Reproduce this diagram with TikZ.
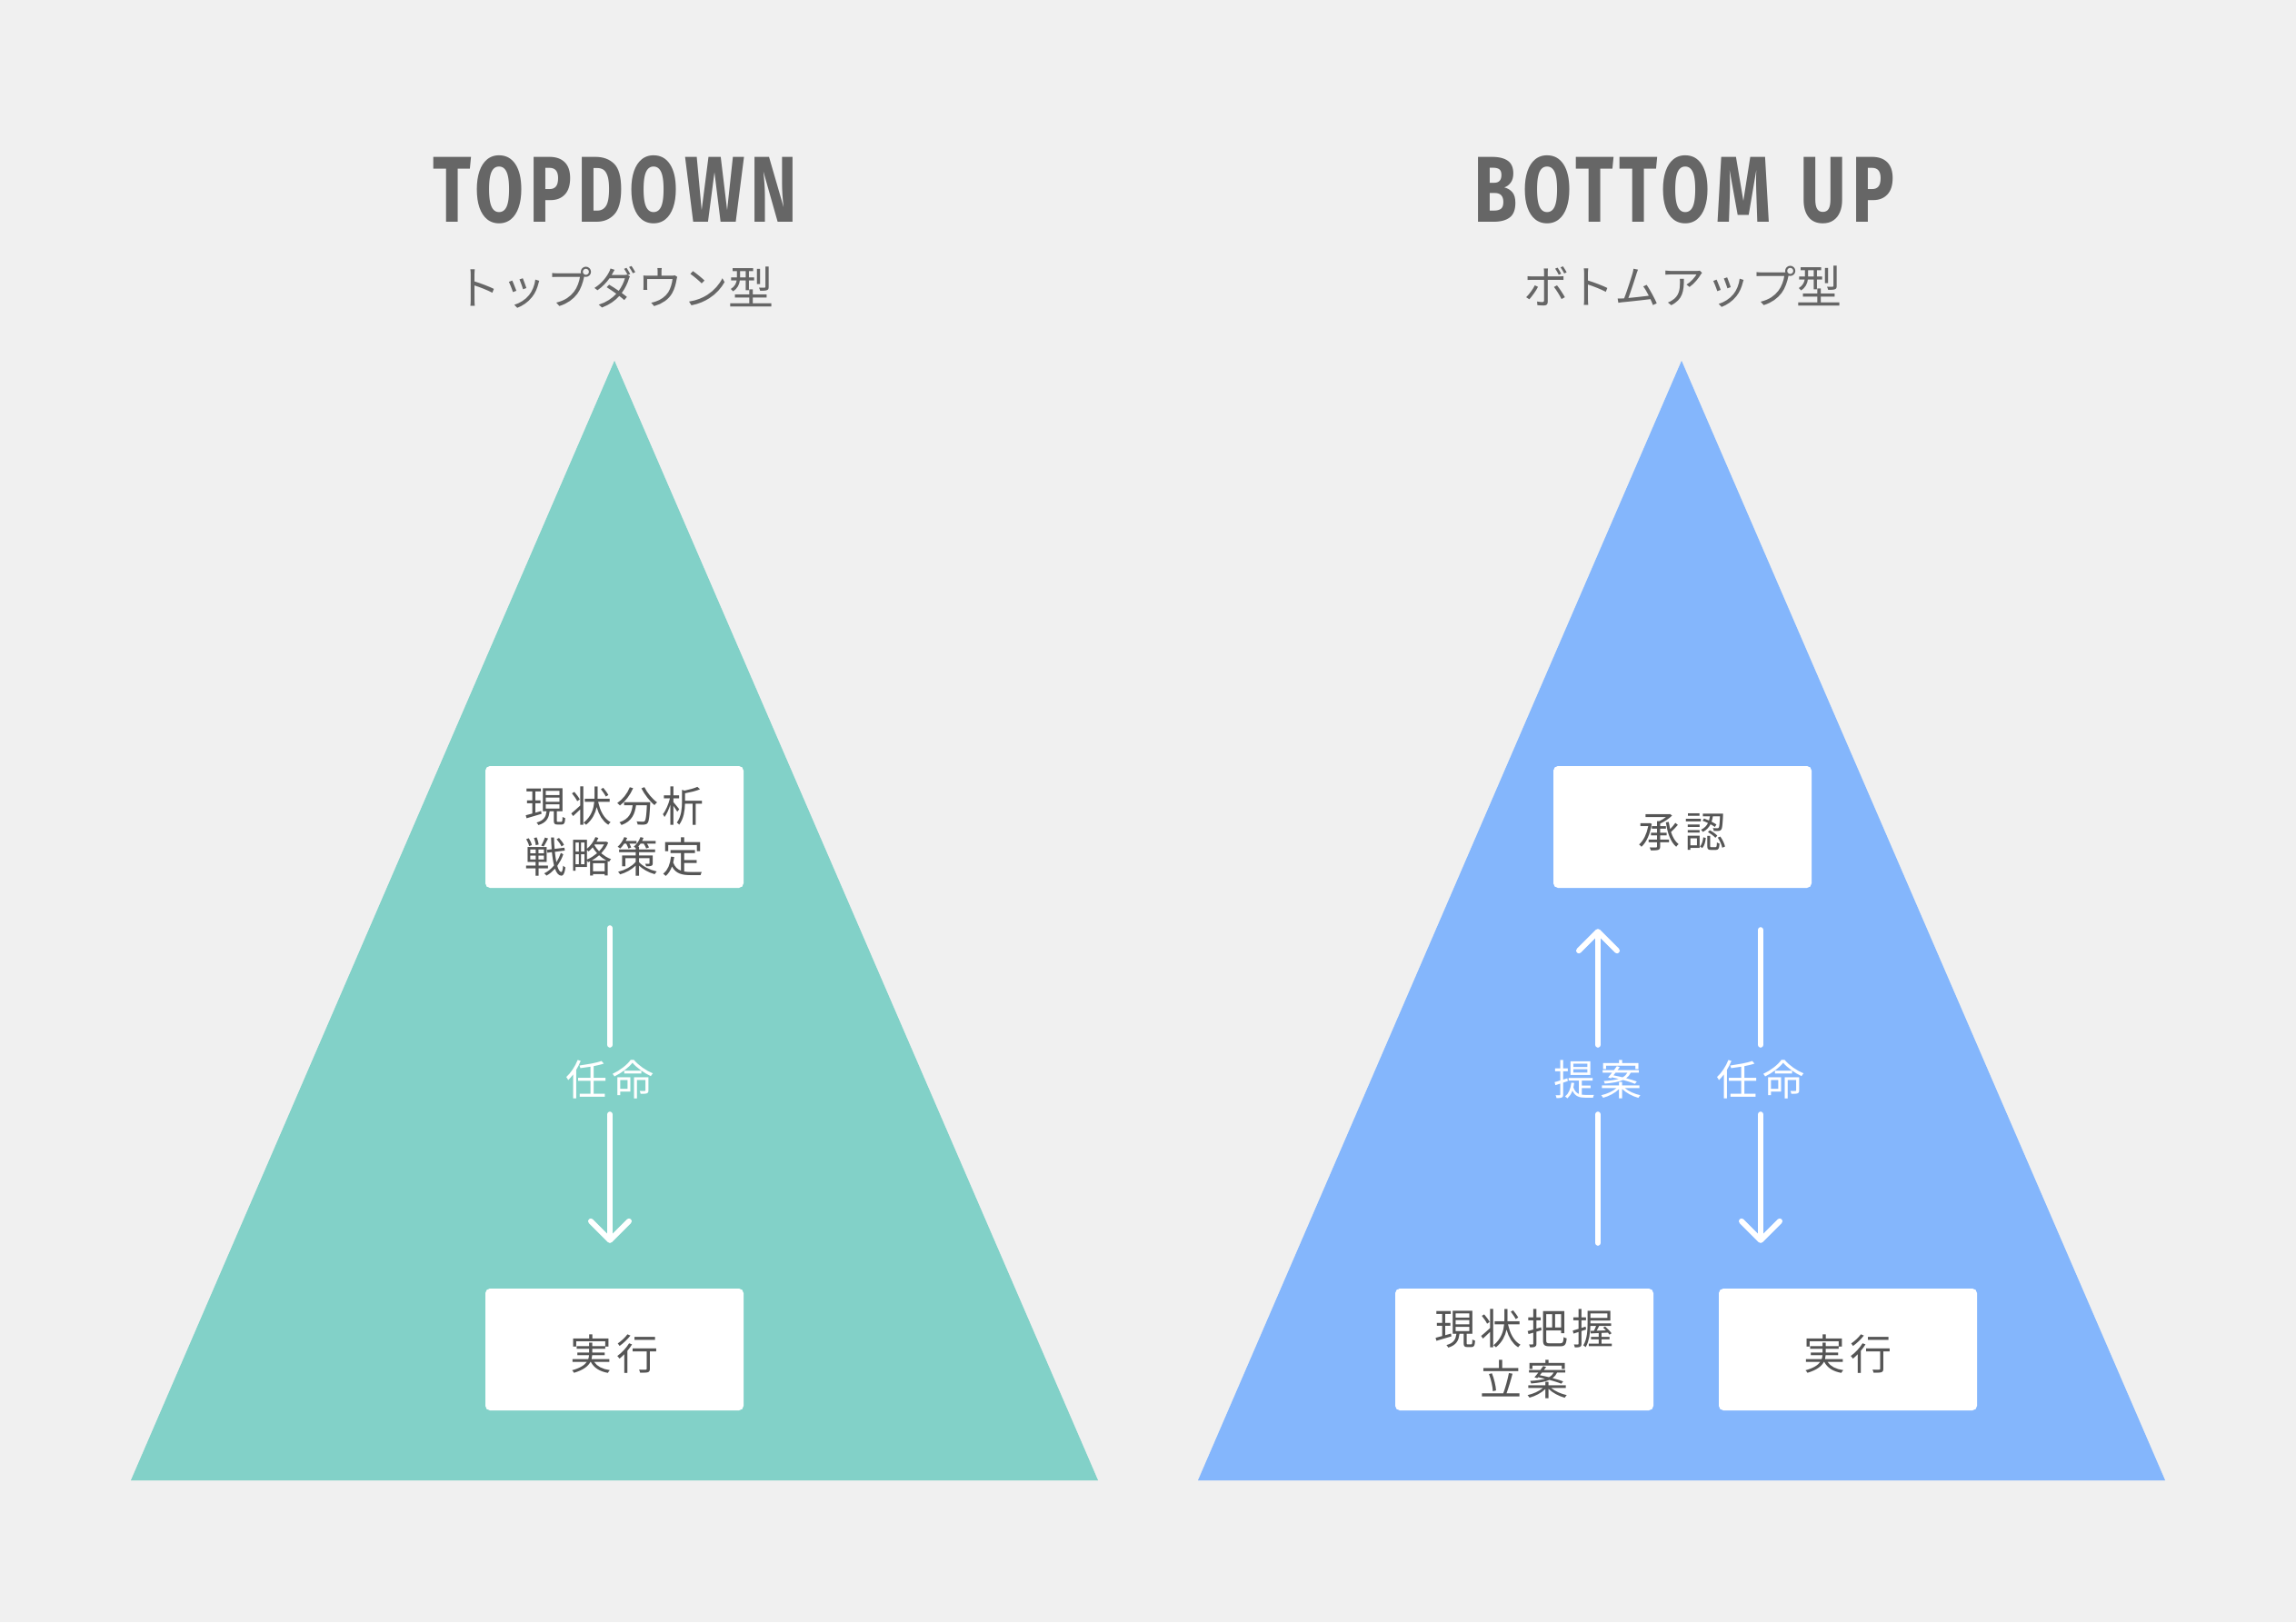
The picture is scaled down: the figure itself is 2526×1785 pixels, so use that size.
\documentclass[tikz,border=0pt]{standalone}
\usepackage{fontspec}
\usetikzlibrary{arrows.meta}
\newfontfamily\jpfont{Noto Sans CJK JP}
\newfontfamily\jpboxfont[LetterSpace=10]{Noto Sans CJK JP}
\newfontfamily\titlefont[FakeStretch=0.76, LetterSpace=6]{Fira Sans}
\newcommand{\boxlift}{\rule{0pt}{49pt}}
\definecolor{bgcol}{HTML}{F0F0F0}
\definecolor{topcol}{HTML}{82D1C8}
\definecolor{bottomcol}{HTML}{84B6FC}
\definecolor{titlecol}{HTML}{666666}
\definecolor{boxtext}{HTML}{555555}
\tikzset{
  stagebox/.style={fill=white, rounded corners=5pt, minimum width=284pt,
    minimum height=134pt, inner sep=0pt, align=center, text=boxtext,
    font=\jpboxfont\fontsize{46}{56}\selectfont},
  arrowlabel/.style={text=white, inner sep=0pt, minimum height=76pt,
    font=\jpboxfont\fontsize{46}{56}\selectfont},
  heading/.style={text=titlecol, inner sep=0pt,
    font=\titlefont\bfseries\fontsize{103}{110}\selectfont},
  subheading/.style={text=titlecol, inner sep=0pt,
    font=\jpfont\fontsize{50}{60}\selectfont},
  flow/.style={draw=white, line width=6pt, line cap=round},
  flowtip/.style={-{Straight Barb[length=21pt, width=42pt, round]}}
}
\begin{document}
\begin{tikzpicture}[x=1pt, y=-1pt]
  \fill[bgcol] (0,0) rectangle (2526,1785);
  \useasboundingbox (0,0) rectangle (2526,1785);
  \fill[topcol] (676,397) -- (1208,1629) -- (144,1629) -- cycle;
  \fill[bottomcol] (1850,397) -- (2382,1629) -- (1318,1629) -- cycle;

  \node[heading] (td-title) at (677,208.5) {TOPDOWN};
  \node[subheading] (td-sub) at (676,316) {トップダウン型};
  \node[heading] (bu-title) at (1853,208.5) {BOTTOM\hspace{32pt}UP};
  \node[subheading] (bu-sub) at (1851,316) {ボトムアップ型};

  \node[stagebox] (td-plan) at (676,910) {\boxlift 現状分析\\戦略策定};
  \node[stagebox] (td-exec) at (676,1485) {\boxlift 実行};
  \node[stagebox] (bu-approve) at (1851,910) {\boxlift 承認};
  \node[stagebox] (bu-plan) at (1677,1485) {\boxlift 現状把握\\立案};
  \node[stagebox] (bu-exec) at (2033,1485) {\boxlift 実行};

  \node[arrowlabel] (td-order) at (671,1188) {任命};
  \node[arrowlabel] (bu-propose) at (1758,1188) {提案};
  \node[arrowlabel] (bu-order) at (1937,1188) {任命};

  \begin{scope}[flow]
    \draw[shorten <=44pt] (td-plan.south -| td-order.center) -- (td-order);
    \draw[flowtip, shorten >=50pt] (td-order) -- (td-exec.north -| td-order.center);
    \draw[shorten <=50pt] (bu-plan.north -| bu-propose.center) -- (bu-propose);
    \draw[flowtip, shorten >=45pt] (bu-propose) -- (bu-approve.south -| bu-propose.center);
    \draw[shorten <=46pt] (bu-approve.south -| bu-order.center) -- (bu-order);
    \draw[flowtip, shorten >=50pt] (bu-order) -- (bu-exec.north -| bu-order.center);
  \end{scope}
\end{tikzpicture}
\end{document}
